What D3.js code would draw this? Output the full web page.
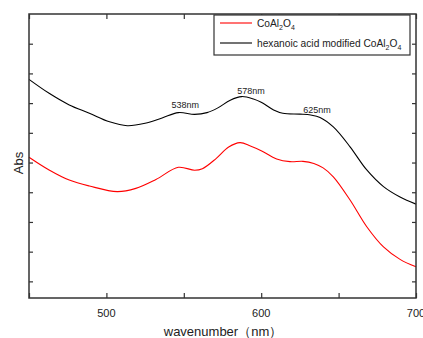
<!DOCTYPE html>
<html>
<head>
<meta charset="utf-8">
<script src="https://cdn.jsdelivr.net/npm/d3@7"></script>
<style>
  body { margin: 0; background: #fff; }
  text { font-family: "Liberation Sans", Arial, sans-serif; fill: #222; }
</style>
</head>
<body>
<div id="chart"></div>
<script>
// wavelength (nm) / absorbance
var wlPlain = [450, 463, 476, 489, 507, 519, 532, 546.5, 557, 562, 571, 579, 586.3, 593, 600, 610, 618.6, 627, 634, 640, 646.6, 657.4, 668.2, 679, 689.7, 700];
var absPlain = [0.518, 0.475, 0.441, 0.421, 0.402, 0.413, 0.443, 0.484, 0.474, 0.479, 0.514, 0.552, 0.567, 0.556, 0.540, 0.512, 0.503, 0.504, 0.497, 0.482, 0.452, 0.374, 0.284, 0.216, 0.174, 0.149];

var wlMod = [450, 463, 476, 489, 502, 513.5, 525, 536, 546.5, 557, 565, 572, 580, 587.4, 595, 600, 608, 614, 625, 632, 638, 646.6, 657.4, 668.2, 679, 689.7, 700];
var absMod = [0.780, 0.733, 0.694, 0.666, 0.637, 0.624, 0.632, 0.650, 0.668, 0.662, 0.668, 0.684, 0.710, 0.722, 0.714, 0.703, 0.677, 0.666, 0.663, 0.660, 0.652, 0.620, 0.553, 0.475, 0.419, 0.384, 0.360];

var seriesNames = ["CoAl2O4", "hexanoic acid modified CoAl2O4"];
var seriesColors = ["#ff0000", "#000000"];

// peak labels: text, wavelength, abs (baseline)
var peakText = ["538nm", "578nm", "625nm"];
var peakX = [551, 593.4, 636];
var peakY = [0.685, 0.731, 0.668];

var xTicks = [500, 600, 700];
var xMinor = [450, 500, 550, 600, 650, 700];
var yTicks = [0.1, 0.2, 0.3, 0.4, 0.5, 0.6, 0.7, 0.8, 0.9];

var W = 423, H = 338;
var m = {left: 29, right: 7, top: 14, bottom: 40};

var svg = d3.select("#chart").append("svg")
    .attr("width", W)
    .attr("height", H);

var x = d3.scaleLinear().domain([450, 700]).range([m.left, W - m.right]);
var y = d3.scaleLinear().domain([0.044, 1.0]).range([H - m.bottom, m.top]);

var line = d3.line()
    .x(d => x(d[0]))
    .y(d => y(d[1]))
    .curve(d3.curveCatmullRom.alpha(0.5));

var plain = d3.zip(wlPlain, absPlain);
var mod = d3.zip(wlMod, absMod);

svg.append("path").datum(plain)
    .attr("d", line)
    .attr("fill", "none")
    .attr("stroke", seriesColors[0])
    .attr("stroke-width", 1.1);

svg.append("path").datum(mod)
    .attr("d", line)
    .attr("fill", "none")
    .attr("stroke", seriesColors[1])
    .attr("stroke-width", 1.1);

// frame
svg.append("rect")
    .attr("x", x(450)).attr("y", y(1.0))
    .attr("width", x(700) - x(450))
    .attr("height", y(0.044) - y(1.0))
    .attr("fill", "none")
    .attr("stroke", "#333")
    .attr("stroke-width", 1.5);

// inward ticks on all four sides
svg.append("g")
    .attr("transform", "translate(0," + y(0.044) + ")")
    .call(d3.axisBottom(x).tickValues(xMinor).tickSizeInner(-5).tickSizeOuter(0).tickFormat(""))
    .call(g => g.select(".domain").remove());

svg.append("g")
    .attr("transform", "translate(0," + y(1.0) + ")")
    .call(d3.axisTop(x).tickValues(xMinor).tickSizeInner(-5).tickSizeOuter(0).tickFormat(""))
    .call(g => g.select(".domain").remove());

svg.append("g")
    .attr("transform", "translate(" + x(450) + ",0)")
    .call(d3.axisLeft(y).tickValues(yTicks).tickSizeInner(-4).tickSizeOuter(0).tickFormat(""))
    .call(g => g.select(".domain").remove());

svg.append("g")
    .attr("transform", "translate(" + x(700) + ",0)")
    .call(d3.axisRight(y).tickValues(yTicks).tickSizeInner(-4).tickSizeOuter(0).tickFormat(""))
    .call(g => g.select(".domain").remove());

svg.selectAll(".tick line").attr("stroke", "#333").attr("stroke-width", 1.2);
svg.selectAll(".tick text").remove();

// x tick labels
svg.selectAll(".xlab")
    .data(xTicks)
    .enter().append("text")
    .attr("x", d => x(d))
    .attr("y", 317)
    .attr("text-anchor", "middle")
    .style("font-size", "11px")
    .text(d => d);

// axis titles
svg.append("text")
    .attr("x", 223)
    .attr("y", 336)
    .attr("text-anchor", "middle")
    .style("font-size", "13px")
    .text("wavenumber（nm）");

svg.append("text")
    .attr("transform", "translate(22.5,163) rotate(-90)")
    .attr("text-anchor", "middle")
    .style("font-size", "13px")
    .text("Abs");

// peak labels
svg.selectAll(".peak")
    .data(peakText)
    .enter().append("text")
    .attr("x", (d, i) => x(peakX[i]))
    .attr("y", (d, i) => y(peakY[i]))
    .attr("text-anchor", "middle")
    .style("font-size", "9px")
    .text(d => d);

// legend
var lg = svg.append("g");
lg.append("rect")
    .attr("x", 214).attr("y", 15)
    .attr("width", 196).attr("height", 40)
    .attr("fill", "#fff")
    .attr("stroke", "#333")
    .attr("stroke-width", 1.2);

seriesNames.forEach(function (name, i) {
    var ly = 23 + i * 20;
    lg.append("line")
        .attr("x1", 220).attr("x2", 252)
        .attr("y1", ly).attr("y2", ly)
        .attr("stroke", seriesColors[i])
        .attr("stroke-width", 1.1);
    var t = lg.append("text")
        .attr("x", 257).attr("y", ly + 4)
        .style("font-size", "10.2px");
    // formula digits as subscripts
    var parts = name.split(/(\d)/).filter(p => p.length);
    var sub = false;
    parts.forEach(function (p) {
        var isNum = /^\d$/.test(p);
        var ts = t.append("tspan").text(p);
        if (isNum) {
            ts.attr("dy", 3).style("font-size", "7px");
            sub = true;
        } else if (sub) {
            ts.attr("dy", -3);
            sub = false;
        }
    });
});
</script>
</body>
</html>
